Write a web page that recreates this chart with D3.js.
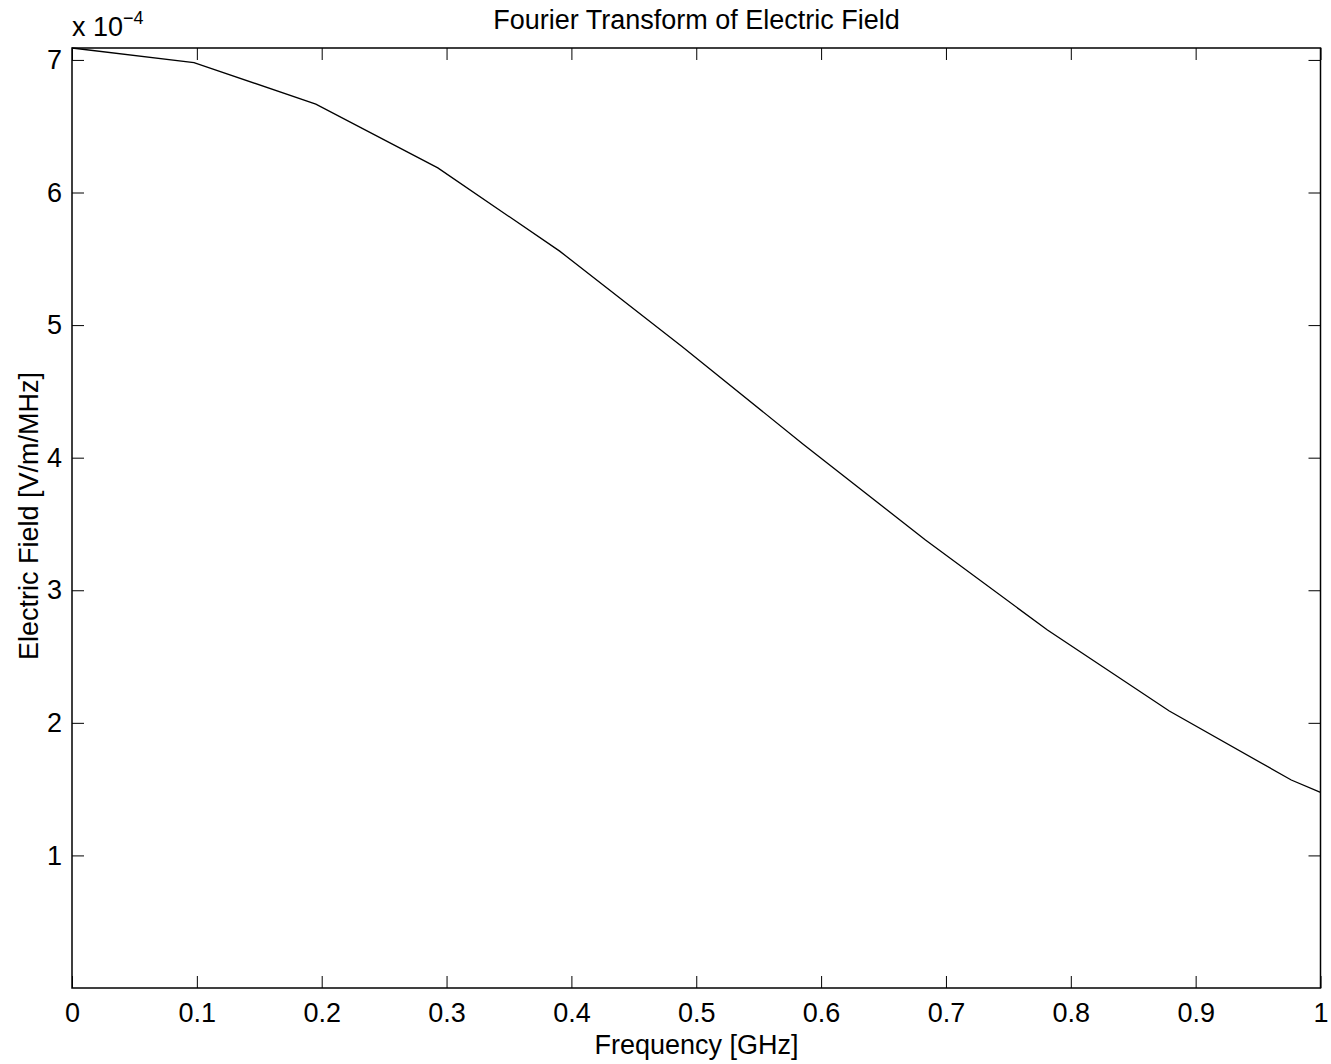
<!DOCTYPE html>
<html><head><meta charset="utf-8">
<script src="https://cdn.jsdelivr.net/npm/d3@7"></script>
<style>body{margin:0;background:#fff;} text{font-family:"Liberation Sans",Arial,sans-serif;fill:#000;}</style>
</head><body>
<svg id="c" width="1331" height="1064"></svg>
<script>
const freqGHz = [0, 0.0977, 0.1953, 0.2930, 0.3906, 0.4883, 0.5859, 0.6836, 0.7813, 0.8789, 0.9766, 1.0];
const fieldE4 = [7.09, 6.98, 6.667, 6.186, 5.558, 4.84, 4.10, 3.379, 2.70, 2.089, 1.569, 1.476];
const xTicks = [0, 0.1, 0.2, 0.3, 0.4, 0.5, 0.6, 0.7, 0.8, 0.9, 1];
const yTicks = [1, 2, 3, 4, 5, 6, 7];
const titleText = "Fourier Transform of Electric Field";
const xLabel = "Frequency [GHz]";
const yLabel = "Electric Field [V/m/MHz]";

const L = 72, R = 1320.5, T = 48, B = 988;
const svg = d3.select("#c");
const x = d3.scaleLinear().domain([0, 1]).range([L, R]);
const y = d3.scaleLinear().domain([0, 7.09]).range([B, T]);
const tl = 12, fs = 27;

const g = svg.append("g");
const fmt = d => d === 0 ? "0" : (d === 1 ? "1" : d3.format(".1f")(d));
const xa = d3.axisBottom(x).tickValues(xTicks).tickSize(-tl).tickPadding(15).tickFormat(fmt);
const xt = d3.axisTop(x).tickValues(xTicks).tickSize(-tl).tickFormat("");
const ya = d3.axisLeft(y).tickValues(yTicks).tickSize(-tl).tickPadding(10).tickFormat(d3.format("d"));
const yr = d3.axisRight(y).tickValues(yTicks).tickSize(-tl).tickFormat("");
function style(sel){ sel.selectAll("path").remove(); sel.selectAll("line").attr("stroke","#000").attr("stroke-width",1); sel.selectAll("text").style("font-size", fs+"px").attr("fill","#000"); }
g.append("g").attr("transform",`translate(0,${B})`).call(xa).call(style);
g.append("g").attr("transform",`translate(0,${T})`).call(xt).call(style);
g.append("g").attr("transform",`translate(${L},0)`).call(ya).call(style);
g.append("g").attr("transform",`translate(${R},0)`).call(yr).call(style);
g.append("rect").attr("x",L).attr("y",T).attr("width",R-L).attr("height",B-T).attr("fill","none").attr("stroke","#000").attr("stroke-width",1.5);

const data = freqGHz.map((f,i)=>[f, fieldE4[i]]);
g.append("path").datum(data).attr("fill","none").attr("stroke","#000").attr("stroke-width",1.3)
  .attr("d", d3.line().x(d=>x(d[0])).y(d=>y(d[1])));

svg.append("text").attr("x",696.5).attr("y",29).attr("text-anchor","middle").style("font-size",fs+"px").text(titleText);
svg.append("text").attr("x",696.5).attr("y",1054).attr("text-anchor","middle").style("font-size",fs+"px").text(xLabel);
svg.append("text").attr("transform",`translate(38,516) rotate(-90)`).attr("text-anchor","middle").style("font-size",fs+"px").text(yLabel);
const ex = svg.append("text").attr("x",72).attr("y",36).style("font-size",fs+"px");
ex.append("tspan").text("x 10");
ex.append("tspan").attr("dy",-12).style("font-size","18px").text("\u22124");
</script>
</body></html>
